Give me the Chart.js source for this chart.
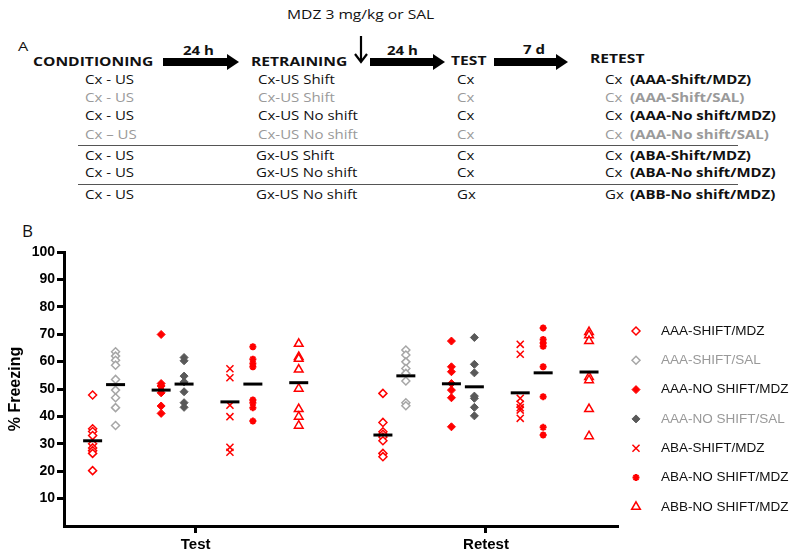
<!DOCTYPE html>
<html>
<head>
<meta charset="utf-8">
<script src="https://cdn.jsdelivr.net/npm/chart.js@4/dist/chart.umd.min.js"></script>
<style>
  html, body { margin: 0; padding: 0; background: #fff; }
  body { width: 800px; height: 558px; position: relative; overflow: hidden; font-family: "Open Sans", sans-serif; color: #111; }
  .t { position: absolute; white-space: nowrap; line-height: 1; transform-origin: 0 50%; transform: translateY(-50%) scaleX(1.25); font-size: 12px; }
  .b { font-weight: bold; }
  .g { color: #9a9a9a; }
  .h { font-weight: bold; font-size: 12.5px; }
  #shapes { position: absolute; left: 0; top: 0; }
  #wrap { position: absolute; left: 0; top: 236px; width: 800px; height: 322px; }
</style>
</head>
<body>
<!-- panel A: protocol diagram -->
<svg id="shapes" width="800" height="210">
  <path d="M163 58 H227 V54 L239 62 L227 70 V66 H163 Z" fill="#000"/>
  <path d="M370 58 H433 V54 L445 62 L433 70 V66 H370 Z" fill="#000"/>
  <path d="M494 58 H556 V54 L568 62 L556 70 V66 H494 Z" fill="#000"/>
  <path d="M361 36 V62 M355 54 L361 62 L367 54" stroke="#000" stroke-width="2.2" fill="none"/>
  <path d="M78 145.5 H738 M78 184.5 H738" stroke="#555" stroke-width="1.2"/>
</svg>
<div class="t" style="left:287px;top:15px;font-size:12.5px">MDZ 3 mg/kg or SAL</div>
<div class="t" style="left:18px;top:46px;font-size:13px">A</div>
<div class="t b" style="left:183px;top:51px">24 h</div>
<div class="t b" style="left:387px;top:51px">24 h</div>
<div class="t b" style="left:523px;top:50px">7 d</div>
<div class="t h" style="left:33px;top:62px">CONDITIONING</div>
<div class="t h" style="left:251px;top:62px">RETRAINING</div>
<div class="t h" style="left:451px;top:61px">TEST</div>
<div class="t h" style="left:590px;top:59px">RETEST</div>
<div id="rows"></div>
<div class="t" style="left:22px;top:230px;font-size:17px;transform:translateY(-50%)">B</div>

<div id="wrap"><canvas id="canvas"></canvas></div>

<script>
// protocol table rows (panel A)
const rowY = [79.5, 97.7, 115.5, 134.5, 155.7, 173, 194.5];
const rowGray = [false, true, false, true, false, false, false];
const conditioning = ["Cx - US", "Cx - US", "Cx - US", "Cx \u2013 US", "Cx - US", "Cx - US", "Cx - US"];
const retraining = ["Cx-US Shift", "Cx-US Shift", "Cx-US No shift", "Cx-US No shift", "Gx-US Shift", "Gx-US No shift", "Gx-US No shift"];
const testCtx = ["Cx", "Cx", "Cx", "Cx", "Cx", "Cx", "Gx"];
const retestCtx = ["Cx", "Cx", "Cx", "Cx", "Cx", "Cx", "Gx"];
const groupNames = ["(AAA-Shift/MDZ)", "(AAA-Shift/SAL)", "(AAA-No shift/MDZ)", "(AAA-No shift/SAL)", "(ABA-Shift/MDZ)", "(ABA-No shift/MDZ)", "(ABB-No shift/MDZ)"];

const rows = document.getElementById("rows");
function addText(txt, left, top, cls) {
  const d = document.createElement("div");
  d.className = "t " + cls;
  d.style.left = left + "px";
  d.style.top = top + "px";
  d.textContent = txt;
  rows.appendChild(d);
}
rowY.forEach((y, i) => {
  const c = rowGray[i] ? "g" : "";
  addText(conditioning[i], 85, y, c);
  addText(retraining[i], retraining[i][0] === "G" ? 256 : 258, y, c);
  addText(testCtx[i], 457, y, c);
  addText(retestCtx[i], 605, y, c);
  addText(groupNames[i], 630, y, c + " b");
});

// panel B data
const groups = ["AAA-SHIFT/MDZ", "AAA-SHIFT/SAL", "AAA-NO SHIFT/MDZ", "AAA-NO SHIFT/SAL", "ABA-SHIFT/MDZ", "ABA-NO SHIFT/MDZ", "ABB-NO SHIFT/MDZ"];
const sessions = ["Test", "Retest"];

const testValues = [
  [47.8, 35.5, 34.5, 33, 30, 28.5, 27.5, 26.5, 20.2],
  [63.6, 62, 60.5, 58.7, 53.5, 49.6, 46.8, 43.2, 36.7],
  [69.9, 52, 51.1, 49.6, 48.6, 43.8, 41.1],
  [61.5, 60.3, 54.7, 52.6, 49, 45, 43.3],
  [57.4, 54.1, 44.1, 39.9, 28.7, 26.9],
  [65.4, 60.9, 59.3, 58.1, 46, 45, 43.2, 38.3],
  [66.5, 61.7, 61, 57.1, 50.1, 42.7, 39.9, 36.6],
];
const retestValues = [
  [48.4, 37.8, 34.4, 33.5, 32.5, 31.1, 26.5, 25.3],
  [64.2, 62.4, 59.9, 57.5, 55.7, 52.9, 45, 43.9],
  [67.5, 58.1, 56.3, 52, 49.6, 46.8, 36.2],
  [68.8, 59, 55.9, 47.4, 46.6, 43.3, 40.2],
  [66.3, 62.7, 46.6, 44.4, 43.2, 42.3, 39.3],
  [72.3, 68.1, 66.8, 65.6, 58.1, 47.2, 36, 33.2],
  [70.8, 69.6, 67.5, 54.4, 53.2, 42.7, 32.8],
];
const testMeans = [31.1, 51.6, 49.6, 51.8, 45.3, 51.8, 52.3];
const retestMeans = [33.2, 54.8, 51.9, 50.8, 48.6, 55.9, 56.2];

// layout: where each group sits around its session tick
const xOffsets = [-0.355, -0.276, -0.119, -0.04, 0.118, 0.197, 0.355];

const RED = "#ff0000";
const styles = [
  { pointStyle: "rectRot", color: RED, fill: "#fff", radius: 4, width: 1.5, text: "#111" },
  { pointStyle: "rectRot", color: "#a6a6a6", fill: "#fff", radius: 4, width: 1.5, text: "#999" },
  { pointStyle: "rectRot", color: RED, fill: RED, radius: 4, width: 1, text: "#111" },
  { pointStyle: "rectRot", color: "#595959", fill: "#595959", radius: 4, width: 1, text: "#999" },
  { pointStyle: "crossRot", color: RED, fill: RED, radius: 5, width: 1.5, text: "#111" },
  { pointStyle: "star", color: RED, fill: RED, radius: 3.5, width: 2, text: "#111" },
  { pointStyle: "triangle", color: RED, fill: "#fff", radius: 5, width: 1.5, text: "#111" },
];

const datasets = groups.map((g, i) => ({
  label: g,
  data: testValues[i].map(v => ({ x: 1 + xOffsets[i], y: v }))
    .concat(retestValues[i].map(v => ({ x: 2 + xOffsets[i], y: v }))),
  pointStyle: styles[i].pointStyle,
  pointRadius: styles[i].radius,
  pointBorderWidth: styles[i].width,
  pointBorderColor: styles[i].color,
  pointBackgroundColor: styles[i].fill,
  showLine: false,
  order: 1,
}));

datasets.push({
  label: "mean",
  data: groups.flatMap((g, i) => [
    { x: 1 + xOffsets[i], y: testMeans[i] },
    { x: 2 + xOffsets[i], y: retestMeans[i] },
  ]),
  pointStyle: "line",
  pointRadius: 9.5,
  pointBorderWidth: 3,
  pointBorderColor: "#000",
  showLine: false,
  order: 0,
});

// legend drawn next to the plot, one row per group
const groupLegend = {
  id: "groupLegend",
  afterDraw(chart) {
    const ctx = chart.ctx;
    const x0 = chart.chartArea.right + 18;
    ctx.save();
    groups.forEach((g, i) => {
      const st = styles[i];
      const y = 95 + i * 29.3;
      ctx.fillStyle = st.fill;
      ctx.strokeStyle = st.color;
      ctx.lineWidth = st.width;
      Chart.helpers.drawPoint(ctx, { pointStyle: st.pointStyle, radius: st.radius, borderWidth: st.width, rotation: 0 }, x0, y);
      ctx.fillStyle = st.text;
      ctx.font = '13.5px "Liberation Sans", Arial, sans-serif';
      ctx.textBaseline = "middle";
      ctx.textAlign = "left";
      ctx.fillText(g, x0 + 25, y);
    });
    ctx.restore();
  },
};

Chart.defaults.font.family = '"Liberation Sans", Arial, sans-serif';
Chart.defaults.color = "#000";

const chart = new Chart(document.getElementById("canvas"), {
  type: "scatter",
  data: { datasets },
  plugins: [groupLegend],
  options: {
    responsive: true,
    maintainAspectRatio: false,
    animation: false,
    events: [],
    layout: { padding: { top: 16, right: 182, bottom: 0, left: 0 } },
    plugins: { legend: { display: false }, tooltip: { enabled: false } },
    scales: {
      x: {
        type: "linear",
        min: 0.5464,
        max: 2.4548,
        afterFit: s => { s.height = 32; },
        afterBuildTicks: s => { s.ticks = sessions.map((_, i) => ({ value: i + 1 })); },
        ticks: {
          color: "#000",
          font: { size: 15, weight: "bold" },
          padding: 3,
          autoSkip: false,
          maxRotation: 0,
          callback: v => sessions[v - 1] || "",
        },
        grid: { drawOnChartArea: false, tickLength: 7, tickWidth: 3, tickColor: "#000" },
        border: { width: 3, color: "#000" },
      },
      y: {
        min: 0,
        max: 100,
        afterFit: s => { s.width = 64; },
        ticks: {
          stepSize: 10,
          color: "#000",
          padding: 2,
          font: { size: 14, weight: "bold" },
          callback: v => (v === 0 ? "" : v),
        },
        grid: {
          drawOnChartArea: false,
          tickLength: 7,
          tickWidth: 3,
          tickColor: c => (c.tick && c.tick.value === 0 ? "rgba(0,0,0,0)" : "#000"),
        },
        border: { width: 3, color: "#000" },
        title: {
          display: true,
          text: "% Freezing",
          color: "#000",
          font: { size: 16, weight: "bold" },
          padding: { top: 6, bottom: 0 },
        },
      },
    },
  },
});
</script>
</body>
</html>
